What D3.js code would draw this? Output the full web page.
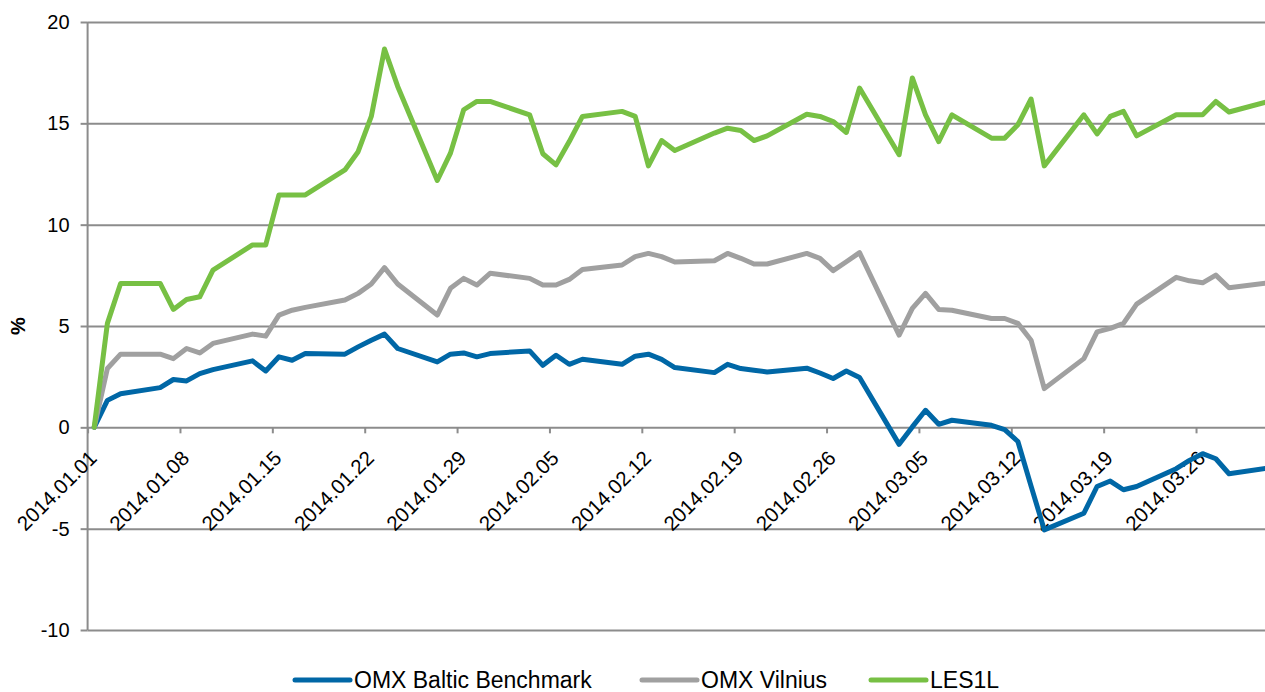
<!DOCTYPE html>
<html>
<head>
<meta charset="utf-8">
<script src="https://cdn.jsdelivr.net/npm/d3@7"></script>
<style>
  html, body { margin: 0; padding: 0; background: #fff; }
  svg { display: block; font-family: "Liberation Sans", Arial, sans-serif; }
</style>
</head>
<body>
<svg id="chart" width="1265" height="692"></svg>
<script>
// ---- data ----
const dates = [
  "2014-01-01","2014-01-02","2014-01-03","2014-01-06","2014-01-07","2014-01-08","2014-01-09","2014-01-10",
  "2014-01-13","2014-01-14","2014-01-15","2014-01-16","2014-01-17","2014-01-20","2014-01-21","2014-01-22",
  "2014-01-23","2014-01-24","2014-01-27","2014-01-28","2014-01-29","2014-01-30","2014-01-31",
  "2014-02-03","2014-02-04","2014-02-05","2014-02-06","2014-02-07","2014-02-10","2014-02-11","2014-02-12",
  "2014-02-13","2014-02-14","2014-02-17","2014-02-18","2014-02-19","2014-02-20","2014-02-21","2014-02-24",
  "2014-02-25","2014-02-26","2014-02-27","2014-02-28",
  "2014-03-03","2014-03-04","2014-03-05","2014-03-06","2014-03-07","2014-03-10","2014-03-11","2014-03-12",
  "2014-03-13","2014-03-14","2014-03-17","2014-03-18","2014-03-19","2014-03-20","2014-03-21","2014-03-24",
  "2014-03-25","2014-03-26","2014-03-27","2014-03-28","2014-03-31"
];
const omxBaltic = [
  0, 1.33, 1.66, 1.96, 2.36, 2.29, 2.65, 2.85, 3.28, 2.78, 3.48, 3.31, 3.64, 3.61, 3.97, 4.30, 4.60, 3.89, 3.23, 3.61, 3.67, 3.48, 3.64,
  3.77, 3.06, 3.56, 3.11, 3.36, 3.11, 3.51, 3.61, 3.35, 2.95, 2.70, 3.11, 2.90, 2.82, 2.73, 2.92, 2.68, 2.41, 2.78, 2.46,
  -0.84, 0.02, 0.84, 0.15, 0.35, 0.10, -0.11, -0.70, -2.90, -5.06, -4.24, -2.92, -2.65, -3.08, -2.92, -2.04, -1.63, -1.30, -1.55, -2.29, -2.01
];
const omxVilnius = [
  0, 2.90, 3.61, 3.61, 3.39, 3.89, 3.67, 4.14, 4.60, 4.50, 5.54, 5.78, 5.92, 6.28, 6.61, 7.07, 7.88, 7.07, 5.54, 6.86, 7.35, 7.02, 7.60,
  7.35, 7.02, 7.02, 7.30, 7.79, 8.01, 8.42, 8.58, 8.42, 8.16, 8.22, 8.58, 8.34, 8.06, 8.06, 8.58, 8.34, 7.73, 8.17, 8.62,
  4.55, 5.87, 6.61, 5.82, 5.78, 5.37, 5.37, 5.13, 4.30, 1.91, 3.39, 4.71, 4.88, 5.13, 6.08, 7.40, 7.23, 7.13, 7.51, 6.89, 7.13
];
const les1l = [
  0, 5.13, 7.10, 7.10, 5.82, 6.31, 6.44, 7.76, 9.00, 9.00, 11.47, 11.47, 11.47, 12.70, 13.60, 15.34, 18.67, 16.82, 12.18, 13.53, 15.67, 16.08, 16.08,
  15.42, 13.50, 12.95, 14.10, 15.34, 15.59, 15.34, 12.90, 14.15, 13.66, 14.52, 14.76, 14.65, 14.15, 14.38, 15.45, 15.34, 15.09, 14.55, 16.74,
  13.45, 17.24, 15.42, 14.10, 15.42, 14.27, 14.27, 14.93, 16.20, 12.90, 15.42, 14.48, 15.34, 15.59, 14.38, 15.42, 15.42, 15.42, 16.08, 15.56, 16.08
];
const seriesNames = ["OMX Baltic Benchmark", "OMX Vilnius", "LES1L"];
const seriesColors = ["#0067a6", "#a0a0a0", "#77c044"];
const tickDates = ["2014-01-01","2014-01-08","2014-01-15","2014-01-22","2014-01-29","2014-02-05","2014-02-12",
                   "2014-02-19","2014-02-26","2014-03-05","2014-03-12","2014-03-19","2014-03-26"];
const yTicks = [-10, -5, 0, 5, 10, 15, 20];
const yTitle = "%";

// ---- layout ----
const svg = d3.select("#chart");
const plotLeft = 87.6, plotRight = 1275.2, plotTop = 22, plotBottom = 630;
const parse = d3.utcParse("%Y-%m-%d");
const fmt = d3.utcFormat("%Y.%m.%d");
const x = d3.scaleUtc().domain([parse("2014-01-01"), parse("2014-04-01")]).range([plotLeft, plotRight]);
const y = d3.scaleLinear().domain([-10, 20]).range([plotBottom, plotTop]);
const mid = d => new Date(parse(d).getTime() + 12 * 3600 * 1000);

// grid lines
const grid = svg.append("g").attr("transform", `translate(${plotLeft},0)`)
  .call(d3.axisLeft(y).tickValues(yTicks).tickSize(-(plotRight - plotLeft)).tickFormat(""));
grid.select(".domain").remove();
grid.selectAll(".tick line").attr("stroke", "#8c8c8c").attr("stroke-width", 2);

// y axis
const yAx = svg.append("g").attr("transform", `translate(${plotLeft},0)`)
  .call(d3.axisLeft(y).tickValues(yTicks).tickSize(7).tickPadding(11).tickFormat(d => String(d)));
yAx.select(".domain").attr("stroke", "#8c8c8c").attr("stroke-width", 2).attr("d", `M0,${plotTop}V${plotBottom}`);
yAx.selectAll(".tick line").attr("stroke", "#8c8c8c").attr("stroke-width", 2);
yAx.selectAll(".tick text").attr("font-size", 20).attr("fill", "#000")
  .attr("font-family", "Liberation Sans, Arial, sans-serif");

// x axis at y=0
const xAx = svg.append("g").attr("transform", `translate(0,${y(0)})`)
  .call(d3.axisBottom(x).tickValues(tickDates.map(parse)).tickSize(6).tickFormat(fmt));
xAx.select(".domain").remove();
xAx.selectAll(".tick line").attr("stroke", "#8c8c8c").attr("stroke-width", 2);
xAx.selectAll(".tick text")
  .attr("font-size", 20.5).attr("fill", "#000")
  .attr("font-family", "Liberation Sans, Arial, sans-serif")
  .attr("text-anchor", "end")
  .attr("y", 0).attr("dy", 0)
  .attr("transform", "translate(10,32) rotate(-45)");

// y title
svg.append("text")
  .attr("transform", `translate(25,${y(5)}) rotate(-90)`)
  .attr("text-anchor", "middle")
  .attr("font-size", 20).attr("font-weight", "bold")
  .text(yTitle);

// lines
const allSeries = [omxBaltic, omxVilnius, les1l];
const line = d3.line().x(d => x(d.date)).y(d => y(d.value));
allSeries.forEach((vals, i) => {
  const pts = dates.map((d, j) => ({ date: mid(d), value: vals[j] }));
  svg.append("path").datum(pts)
    .attr("fill", "none")
    .attr("stroke", seriesColors[i])
    .attr("stroke-width", 5)
    .attr("stroke-linejoin", "round")
    .attr("stroke-linecap", "round")
    .attr("d", line);
});

// legend
const legendX = [295, 642, 871];
const lg = svg.append("g").attr("transform", "translate(0,680)");
seriesNames.forEach((name, i) => {
  const g = lg.append("g").attr("transform", `translate(${legendX[i]},0)`);
  g.append("line").attr("x1", 0).attr("x2", 55).attr("y1", 0).attr("y2", 0)
    .attr("stroke", seriesColors[i]).attr("stroke-width", 5).attr("stroke-linecap", "round");
  g.append("text").attr("x", 59).attr("y", 7.5)
    .attr("font-size", 23).attr("fill", "#000").text(name);
});
</script>
</body>
</html>
